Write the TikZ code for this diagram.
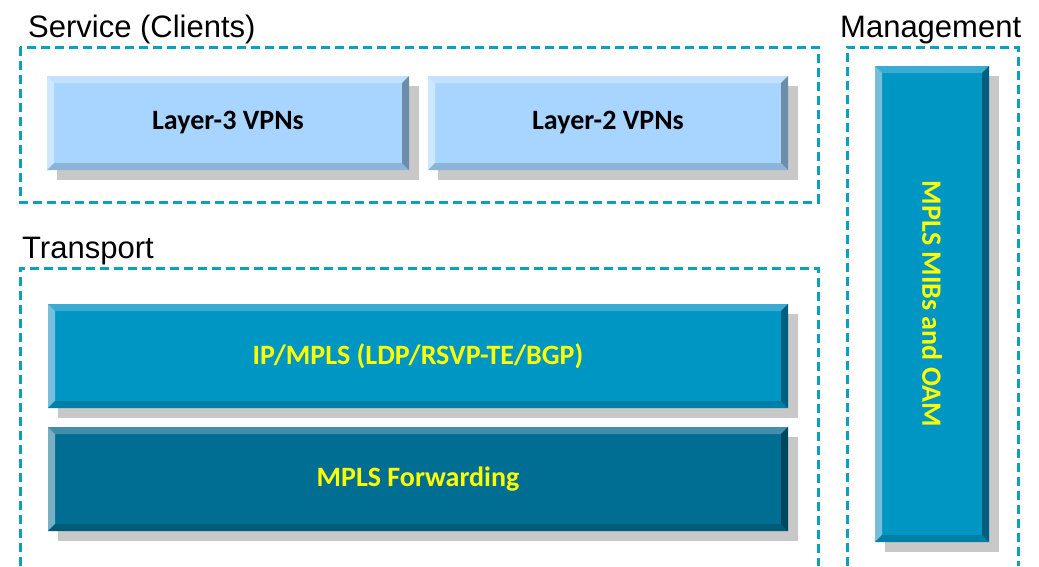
\documentclass[tikz,border=0pt]{standalone}
\usepackage{fontspec}
\setmainfont{Liberation Sans}
\newfontfamily\boxfont{Carlito}
\usetikzlibrary{positioning, shadows}

\definecolor{framecol}{HTML}{0BA0BF}
\definecolor{shadowcol}{HTML}{C8C8C8}
% pale boxes
\definecolor{paleface}{HTML}{A8D5FF}
\definecolor{paletop}{HTML}{C2E1FF}
\definecolor{paleleft}{HTML}{CDE7FF}
\definecolor{palebot}{HTML}{8CB4D8}
\definecolor{paleright}{HTML}{6C8DAA}
% mid blue boxes
\definecolor{midface}{HTML}{0096C3}
\definecolor{midtop}{HTML}{3AABD2}
\definecolor{midleft}{HTML}{75BFDC}
\definecolor{midbot}{HTML}{007FA6}
\definecolor{midright}{HTML}{005E7E}
% dark blue box
\definecolor{darkface}{HTML}{006E93}
\definecolor{darktop}{HTML}{418FAB}
\definecolor{darkleft}{HTML}{7AAEC2}
\definecolor{darkbot}{HTML}{005B7B}
\definecolor{darkright}{HTML}{00455E}
\definecolor{labelyellow}{HTML}{FFFF00}

\begin{document}
\begin{tikzpicture}[x=1pt, y=-1pt, node distance=19pt,
  frame/.style = {draw=framecol, line width=3pt, dash pattern=on 9pt off 5pt},
  title/.style = {anchor=base west, inner sep=0pt, font=\fontsize{31}{31}\selectfont},
  bevelbox/.style n args = {5}{
    fill=#1, inner sep=0pt, outer sep=0pt,
    font=\boxfont\bfseries\fontsize{28}{28}\selectfont,
    drop shadow={shadow xshift=10pt, shadow yshift=-10pt, fill=shadowcol, opacity=1},
    path picture={
      \fill[#2] (path picture bounding box.north west) -- (path picture bounding box.north east)
        -- ([shift={(-7pt,-7pt)}]path picture bounding box.north east)
        -- ([shift={(7pt,-7pt)}]path picture bounding box.north west) -- cycle;
      \fill[#3] (path picture bounding box.north west) -- (path picture bounding box.south west)
        -- ([shift={(7pt,7pt)}]path picture bounding box.south west)
        -- ([shift={(7pt,-7pt)}]path picture bounding box.north west) -- cycle;
      \fill[#4] (path picture bounding box.south west) -- (path picture bounding box.south east)
        -- ([shift={(-7pt,7pt)}]path picture bounding box.south east)
        -- ([shift={(7pt,7pt)}]path picture bounding box.south west) -- cycle;
      \fill[#5] (path picture bounding box.north east) -- (path picture bounding box.south east)
        -- ([shift={(-7pt,7pt)}]path picture bounding box.south east)
        -- ([shift={(-7pt,-7pt)}]path picture bounding box.north east) -- cycle;
    }},
  palebox/.style = {bevelbox={paleface}{paletop}{paleleft}{palebot}{paleright}, text=black},
  midbox/.style = {bevelbox={midface}{midtop}{midleft}{midbot}{midright}, text=labelyellow},
  darkbox/.style = {bevelbox={darkface}{darktop}{darkleft}{darkbot}{darkright}, text=labelyellow}]

  \useasboundingbox (0,0) rectangle (1039,566);

  % dashed frames
  \draw[frame] (20,47) rectangle (818,202);
  \draw[frame] (20,566) -- (20,268) -- (818,268) -- (818,566);
  \draw[frame] (847,566) -- (847,47) -- (1018,47) -- (1018,566);

  \node[title] (service) at (28,37) {Service (Clients)};
  \node[title] (transport) at (22,258) {Transport};
  \node[title] (management) at (840,37) {Management};

  % service layer
  \node[palebox, minimum width=362, minimum height=94] (l3vpn) at (228,123) {Layer-3 VPNs};
  \node[palebox, minimum width=360, minimum height=94] (l2vpn) [right=of l3vpn] {Layer-2 VPNs};

  % transport layer
  \node[midbox, minimum width=740, minimum height=104] (ipmpls) at (418,356) {IP/MPLS (LDP/RSVP-TE/BGP)};
  \node[darkbox, minimum width=740, minimum height=104] (fwd) [below=of ipmpls] {MPLS Forwarding};

  % management
  \node[midbox, minimum width=114, minimum height=476] (mgmt) at (932,304) {};
  \node[rotate=-90, text=labelyellow, font=\boxfont\bfseries\fontsize{28}{28}\selectfont]
    (mgmttext) at (mgmt.center) {MPLS MIBs and OAM};
\end{tikzpicture}
\end{document}
